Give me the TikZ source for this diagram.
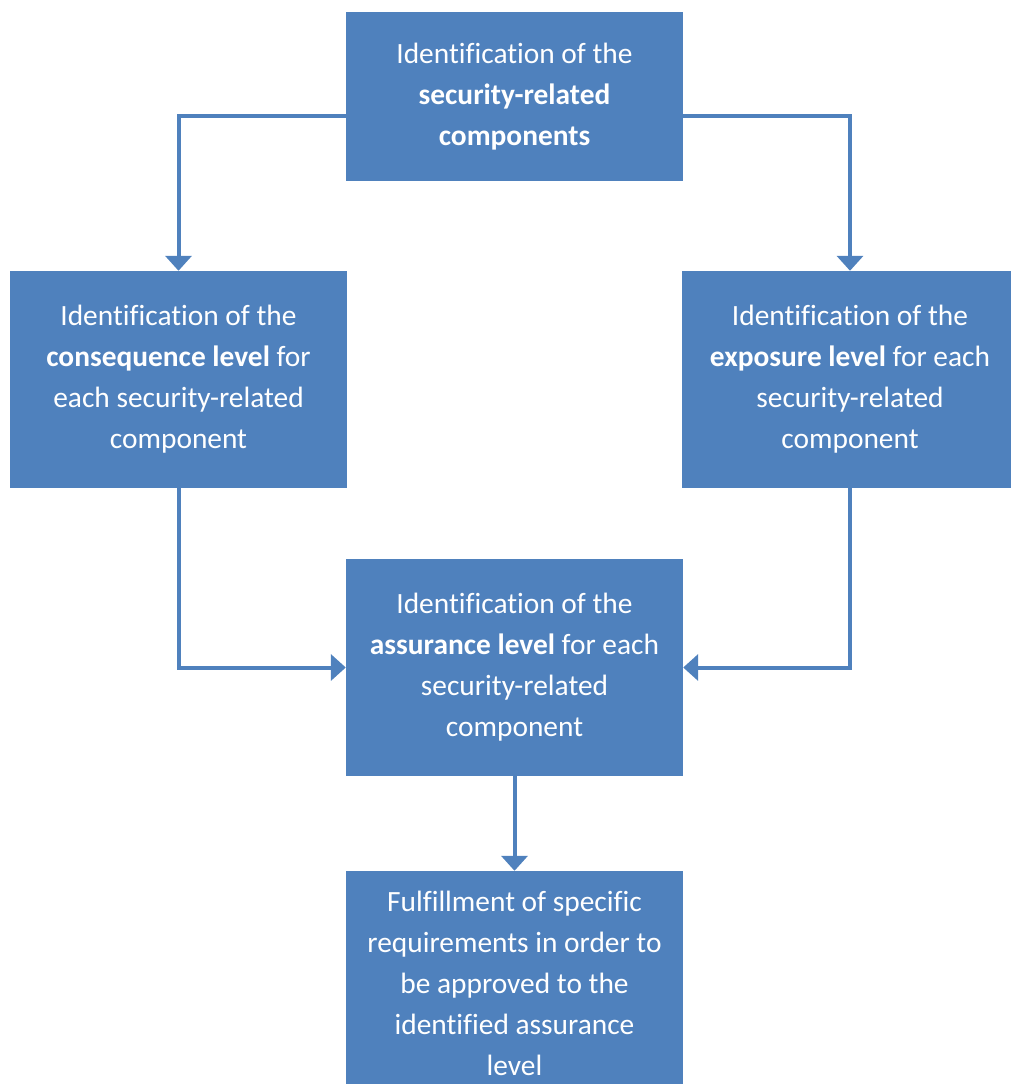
\documentclass[tikz,border=0pt]{standalone}
\usepackage{fontspec}
\setmainfont{Carlito}[Ligatures=NoCommon]
\usetikzlibrary{arrows.meta}
\definecolor{boxblue}{HTML}{4F81BD}
\begin{document}
\begin{tikzpicture}[x=1pt,y=-1pt,
  stagebox/.style={fill=boxblue, draw=none, text=white, align=center,
    minimum width=337pt, inner sep=0pt,
    font=\fontsize{29.4}{41}\selectfont},
  flow/.style={draw=boxblue, line width=4pt,
    -{Triangle[width=26pt,length=15pt]}}]
\useasboundingbox (0,0) rectangle (1011,1084);
\begin{scope}
\clip (0,0) rectangle (1011,1084);
\node[stagebox, minimum height=169pt] (top) at (514.5,96.5)
  {Identification of the\\\textbf{security-related}\\\textbf{components}};
\node[stagebox, minimum height=217pt] (left) at (178.5,379.5)
  {Identification of the\\\textbf{consequence level} for\\each security-related\\component};
\node[stagebox, minimum height=217pt] (right) at (850,379.5)
  {Identification of the\\\textbf{exposure level} for each\\security-related\\component};
\node[stagebox, minimum height=217pt] (mid) at (514.5,667.5)
  {Identification of the\\\textbf{assurance level} for each\\security-related\\component};
\node[stagebox, minimum height=225pt] (bot) at (514.5,983.5)
  {Fulfillment of specific\\requirements in order to\\be approved to the\\identified assurance\\level};
\end{scope}
\draw[flow] (top.west |- 0,116) -| (left.north);
\draw[flow] (top.east |- 0,116) -| (right.north);
\draw[flow] (left.south) |- (mid.west);
\draw[flow] (right.south) |- (mid.east);
\draw[flow] (mid.south) -- (bot.north);
\end{tikzpicture}
\end{document}
